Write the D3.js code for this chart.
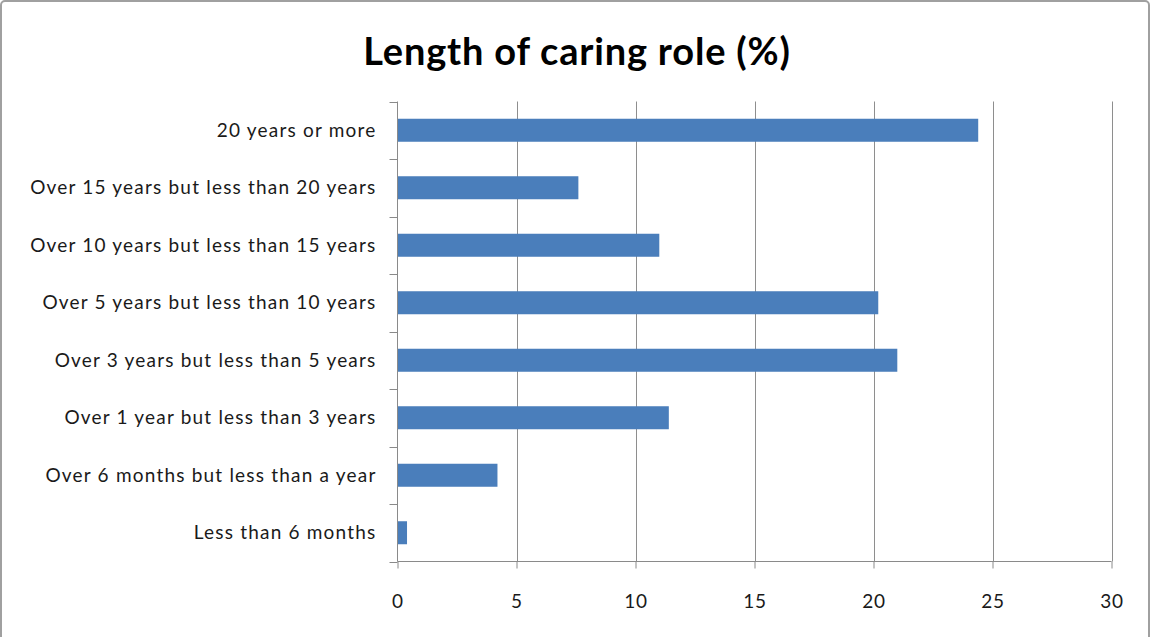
<!DOCTYPE html>
<html>
<head>
<meta charset="utf-8">
<script src="https://cdn.jsdelivr.net/npm/d3@7"></script>
<style>
  html, body { margin: 0; padding: 0; background: #fff; }
  svg { display: block; }
</style>
</head>
<body>
<script>
// Length of caring role, share of carers (%)
const categories = [
  "20 years or more",
  "Over 15 years but less than 20 years",
  "Over 10 years but less than 15 years",
  "Over 5 years but less than 10 years",
  "Over 3 years but less than 5 years",
  "Over 1 year but less than 3 years",
  "Over 6 months but less than a year",
  "Less than 6 months"
];
const percentages = [24.4, 7.6, 11.0, 20.2, 21.0, 11.4, 4.2, 0.4];
const xTicks = [0, 5, 10, 15, 20, 25, 30];
const chartTitle = "Length of caring role (%)";

const W = 1150, H = 637;
const plot = { left: 397.5, right: 1111.5, top: 101.5, bottom: 561.5 };
const font = "Lato, 'Open Sans', sans-serif";

const svg = d3.select("body").append("svg")
  .attr("width", W).attr("height", H);

// Chart frame
svg.append("rect")
  .attr("x", 1).attr("y", 1)
  .attr("width", W - 2).attr("height", H + 10)
  .attr("rx", 4)
  .attr("fill", "#fff")
  .attr("stroke", "#a0a0a0")
  .attr("stroke-width", 2);

const x = d3.scaleLinear().domain([0, 30]).range([plot.left, plot.right]);
const y = d3.scaleBand().domain(categories)
  .range([plot.top, plot.bottom])
  .paddingInner(0.6).paddingOuter(0.3);

// Title
svg.append("text")
  .attr("x", 577).attr("y", 65)
  .attr("text-anchor", "middle")
  .attr("font-family", font)
  .attr("font-weight", "bold")
  .attr("font-size", 38)
  .attr("letter-spacing", 0.8)
  .attr("fill", "#000")
  .text(chartTitle);

// Vertical gridlines
svg.append("g").selectAll("line")
  .data(xTicks.filter(t => t > 0))
  .join("line")
  .attr("x1", d => Math.round(x(d)) + 0.5).attr("x2", d => Math.round(x(d)) + 0.5)
  .attr("y1", plot.top).attr("y2", plot.bottom)
  .attr("stroke", "#8e8e8e").attr("stroke-width", 1);

// Bars
svg.append("g").selectAll("rect")
  .data(categories.map((c, i) => ({ c, v: percentages[i] })))
  .join("rect")
  .attr("x", x(0))
  .attr("y", d => y(d.c))
  .attr("width", d => x(d.v) - x(0))
  .attr("height", y.bandwidth())
  .attr("fill", "#4a7ebb");

// X axis
const xAxis = d3.axisBottom(x).tickValues(xTicks).tickSize(7).tickPadding(26);
const gx = svg.append("g")
  .attr("transform", `translate(0,${plot.bottom})`)
  .call(xAxis);
gx.select(".domain").attr("stroke", "#8a8a8a").attr("d", `M${plot.left},0H${plot.right}`);
gx.selectAll(".tick line").attr("stroke", "#8a8a8a");
gx.selectAll(".tick text")
  .attr("font-family", font).attr("font-size", 19)
  .attr("letter-spacing", 0.8).attr("fill", "#1a1a1a");

// Y axis: ticks fall on category boundaries
const gy = svg.append("g").attr("transform", `translate(${plot.left},0)`);
gy.append("line")
  .attr("x1", 0).attr("x2", 0)
  .attr("y1", plot.top).attr("y2", plot.bottom)
  .attr("stroke", "#8a8a8a");
const step = y.step();
const bounds = d3.range(categories.length + 1).map(i => y(categories[0]) - y.paddingOuter() * step + i * step);
gy.selectAll("line.tk")
  .data(bounds)
  .join("line").attr("class", "tk")
  .attr("x1", -8).attr("x2", 0)
  .attr("y1", d => Math.round(d) + 0.5).attr("y2", d => Math.round(d) + 0.5)
  .attr("stroke", "#8a8a8a");
gy.selectAll("text")
  .data(categories)
  .join("text")
  .attr("x", -21)
  .attr("y", d => y(d) + y.bandwidth() / 2)
  .attr("dy", "0.35em")
  .attr("text-anchor", "end")
  .attr("font-family", font).attr("font-size", 19)
  .attr("letter-spacing", 1.2)
  .attr("fill", "#1a1a1a")
  .text(d => d);
</script>
</body>
</html>
